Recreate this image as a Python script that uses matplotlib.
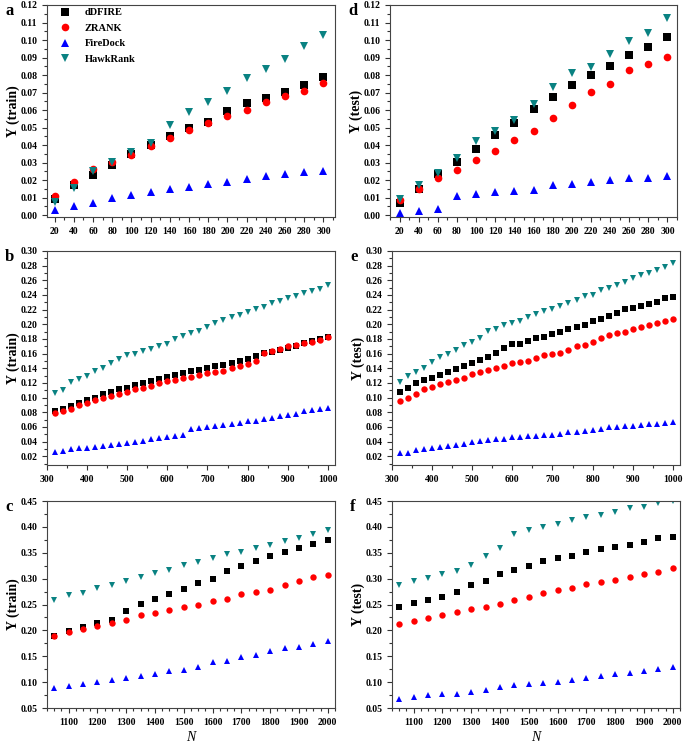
import numpy as np
import matplotlib.pyplot as plt
from matplotlib.ticker import MultipleLocator, AutoMinorLocator

plt.rcParams['font.family'] = 'Liberation Serif'
plt.rcParams['font.weight'] = 'bold'

names = ['dDFIRE', 'ZRANK', 'FireDock', 'HawkRank']
colors = ['black', '#ff0000', '#0000ff', '#0a8282']
markers = ['s', 'o', '^', 'v']

# panel a / d : N = 20..300
n_small = list(range(20, 301, 20))
a_ddfire = [0.009, 0.017, 0.023, 0.0286, 0.0347, 0.040, 0.045, 0.050, 0.0535, 0.0593,
            0.0639, 0.0667, 0.0705, 0.0743, 0.079]
a_zrank = [0.0108, 0.019, 0.0262, 0.0305, 0.0343, 0.0394, 0.0442, 0.0489, 0.0527, 0.0569,
           0.0603, 0.0646, 0.0679, 0.0709, 0.0756]
a_firedock = [0.003, 0.0053, 0.0072, 0.0099, 0.0114, 0.0133, 0.0148, 0.0161, 0.0176, 0.019,
              0.0207, 0.0224, 0.0237, 0.0246, 0.0252]
a_hawkrank = [0.0078, 0.0157, 0.025, 0.0303, 0.036, 0.0413, 0.0516, 0.0588, 0.0646, 0.0711,
              0.0783, 0.0836, 0.0891, 0.0965, 0.1026]

d_ddfire = [0.0068, 0.0148, 0.0234, 0.0306, 0.0378, 0.0456, 0.0529, 0.0605, 0.0677, 0.0745,
            0.0798, 0.085, 0.0916, 0.096, 0.102]
d_zrank = [0.0086, 0.0152, 0.0213, 0.026, 0.0317, 0.0367, 0.043, 0.0483, 0.0555, 0.0629,
           0.0702, 0.0749, 0.0827, 0.0863, 0.0903]
d_firedock = [0.0015, 0.0027, 0.0034, 0.011, 0.0124, 0.0135, 0.0139, 0.0143, 0.0171, 0.0177,
              0.019, 0.020, 0.0211, 0.0213, 0.0222]
d_hawkrank = [0.0091, 0.0175, 0.024, 0.0329, 0.0424, 0.0481, 0.0542, 0.0633, 0.0734, 0.0814,
              0.0848, 0.0922, 0.0994, 0.1042, 0.1127]

# panel b / e : N = 320..1000
n_mid = list(range(320, 1001, 20))
b_ddfire = [0.0815, 0.0847, 0.0879, 0.0929, 0.097, 0.0997, 0.1042, 0.1074, 0.1111, 0.1133,
            0.1165, 0.1193, 0.1225, 0.1256, 0.1279, 0.1307, 0.1338, 0.1357, 0.1375, 0.1398,
            0.1425, 0.1448, 0.1466, 0.1494, 0.1525, 0.1566, 0.1612, 0.1625, 0.1648, 0.1675,
            0.1707, 0.1748, 0.1766, 0.1803, 0.1826]
b_zrank = [0.0787, 0.0815, 0.0847, 0.0901, 0.0929, 0.0961, 0.0992, 0.102, 0.1052, 0.1079,
           0.1111, 0.1133, 0.1161, 0.1193, 0.122, 0.1238, 0.1261, 0.1284, 0.1311, 0.1334,
           0.1352, 0.1366, 0.1407, 0.1434, 0.1461, 0.1493, 0.1607, 0.1634, 0.1666, 0.1698,
           0.1716, 0.1744, 0.1762, 0.178, 0.1826]
b_firedock = [0.0264, 0.0277, 0.0296, 0.0309, 0.0318, 0.0332, 0.0346, 0.0355, 0.0364, 0.0382,
              0.0391, 0.0405, 0.0432, 0.045, 0.0464, 0.0478, 0.0496, 0.0573, 0.0583, 0.0601,
              0.061, 0.0624, 0.0637, 0.0651, 0.0674, 0.0687, 0.0705, 0.0719, 0.0751, 0.0765,
              0.0778, 0.0819, 0.0833, 0.0842, 0.0856]
b_hawkrank = [0.1065, 0.1106, 0.1206, 0.1247, 0.1297, 0.1357, 0.1407, 0.1466, 0.1525, 0.158,
              0.1598, 0.163, 0.1662, 0.1703, 0.1735, 0.1794, 0.1835, 0.1876, 0.1908, 0.1962,
              0.2021, 0.2058, 0.2094, 0.2131, 0.2172, 0.2208, 0.2231, 0.2286, 0.2322, 0.2363,
              0.239, 0.2427, 0.2459, 0.2477, 0.2532]

e_ddfire = [0.1082, 0.1136, 0.1195, 0.1236, 0.1273, 0.1314, 0.135, 0.1386, 0.1436, 0.1473,
            0.1509, 0.155, 0.1614, 0.1673, 0.1727, 0.1736, 0.1777, 0.1818, 0.1827, 0.1864,
            0.1891, 0.1932, 0.1968, 0.1986, 0.205, 0.2073, 0.2114, 0.215, 0.2205, 0.2227,
            0.2255, 0.2277, 0.2309, 0.2364, 0.2373]
e_zrank = [0.0959, 0.0991, 0.105, 0.1114, 0.115, 0.1182, 0.1218, 0.1241, 0.1268, 0.1323,
           0.135, 0.1377, 0.1409, 0.1436, 0.1468, 0.1482, 0.150, 0.1536, 0.1577, 0.1595,
           0.1614, 0.1655, 0.1705, 0.1723, 0.1764, 0.1814, 0.1859, 0.1877, 0.1895, 0.1936,
           0.1968, 0.1991, 0.2014, 0.2045, 0.2077]
e_firedock = [0.0241, 0.0241, 0.0282, 0.030, 0.0314, 0.0332, 0.0345, 0.0359, 0.0368, 0.040,
              0.0409, 0.0418, 0.0432, 0.0441, 0.0459, 0.0464, 0.0473, 0.0482, 0.0486, 0.0491,
              0.0509, 0.0532, 0.0536, 0.0545, 0.0564, 0.0577, 0.0595, 0.0605, 0.0609, 0.0614,
              0.0623, 0.0636, 0.0641, 0.0659, 0.0664]
e_hawkrank = [0.1214, 0.1295, 0.1355, 0.1409, 0.1482, 0.155, 0.1595, 0.165, 0.1718, 0.1755,
              0.1818, 0.1905, 0.1936, 0.1986, 0.2014, 0.2045, 0.21, 0.2136, 0.2177, 0.2209,
              0.225, 0.2286, 0.2336, 0.2382, 0.240, 0.2473, 0.250, 0.2541, 0.2582, 0.2632,
              0.2673, 0.2705, 0.2745, 0.2777, 0.2841]

# panel c / f : N = 1050..2000
n_large = list(range(1050, 2001, 50))
c_ddfire = [0.190, 0.198, 0.2072, 0.2143, 0.2208, 0.2382, 0.251, 0.2607, 0.2704, 0.2807,
            0.2916, 0.300, 0.3142, 0.3251, 0.3335, 0.3438, 0.3515, 0.3593, 0.367, 0.3741]
c_zrank = [0.1885, 0.1963, 0.2034, 0.2079, 0.2143, 0.2195, 0.2291, 0.2336, 0.2401, 0.2459,
           0.2497, 0.2562, 0.2613, 0.2697, 0.2742, 0.2787, 0.2871, 0.2948, 0.3026, 0.3064]
c_firedock = [0.0893, 0.0932, 0.097, 0.0996, 0.1041, 0.108, 0.1125, 0.1164, 0.1209, 0.1241,
              0.1299, 0.1389, 0.1415, 0.1492, 0.1531, 0.1595, 0.1653, 0.1686, 0.1731, 0.1795]
c_hawkrank = [0.2594, 0.2691, 0.273, 0.2813, 0.2878, 0.2948, 0.3039, 0.311, 0.3168, 0.3258,
              0.3316, 0.3393, 0.347, 0.3515, 0.3593, 0.3657, 0.3735, 0.3786, 0.387, 0.3941]

f_ddfire = [0.246, 0.2525, 0.2583, 0.2647, 0.275, 0.2879, 0.2962, 0.3085, 0.3174, 0.3245,
            0.3341, 0.3394, 0.3432, 0.3509, 0.3567, 0.3606, 0.365, 0.3708, 0.378, 0.381]
f_zrank = [0.2132, 0.219, 0.2236, 0.2306, 0.2364, 0.2415, 0.246, 0.2518, 0.2589, 0.2653,
           0.273, 0.2782, 0.2826, 0.2892, 0.2942, 0.2975, 0.3039, 0.3085, 0.3135, 0.3201]
f_firedock = [0.0679, 0.0712, 0.075, 0.0762, 0.0776, 0.0809, 0.0847, 0.0905, 0.0944, 0.0963,
              0.0989, 0.1002, 0.1047, 0.1079, 0.1117, 0.1156, 0.1175, 0.122, 0.1259, 0.1297]
f_hawkrank = [0.2879, 0.2956, 0.302, 0.309, 0.3154, 0.3258, 0.3432, 0.3587, 0.3868, 0.3934,
              0.3992, 0.4055, 0.4132, 0.4184, 0.4229, 0.4292, 0.4358, 0.4389, 0.4454, 0.450]

W, H = 685, 744
fig = plt.figure(figsize=(W / 100, H / 100), dpi=100)


def box(l, t, r, b):
    # pixel box -> figure fraction
    return [l / W, 1 - b / H, (r - l) / W, (b - t) / H]


panels = [
    ('a', box(47, 5, 335, 217), n_small, [a_ddfire, a_zrank, a_firedock, a_hawkrank],
     'Y (train)', (12, 312), (-0.001, 0.12), 20, 0.01, 5.5),
    ('d', box(390, 5, 677, 217), n_small, [d_ddfire, d_zrank, d_firedock, d_hawkrank],
     'Y (test)', (10, 310), (-0.001, 0.12), 20, 0.01, 5.5),
    ('b', box(47, 251, 335, 465), n_mid, [b_ddfire, b_zrank, b_firedock, b_hawkrank],
     'Y (train)', (300, 1018), (0.008, 0.30), 100, 0.02, 4.6),
    ('e', box(392, 251, 680, 465), n_mid, [e_ddfire, e_zrank, e_firedock, e_hawkrank],
     'Y (test)', (300, 1018), (0.008, 0.30), 100, 0.02, 4.6),
    ('c', box(47, 501, 335, 708), n_large, [c_ddfire, c_zrank, c_firedock, c_hawkrank],
     'Y (train)', (1025, 2025), (0.05, 0.45), 100, 0.05, 4.6),
    ('f', box(392, 501, 680, 708), n_large, [f_ddfire, f_zrank, f_firedock, f_hawkrank],
     'Y (test)', (1025, 2025), (0.05, 0.45), 100, 0.05, 4.6),
]

for letter, rect, xs, series, ylab, xl, yl, xmaj, ymaj, ms in panels:
    ax = fig.add_axes(rect)
    for ys, name, c, m in zip(series, names, colors, markers):
        ax.plot(xs, ys, linestyle='none', marker=m, color=c, markersize=ms,
                markeredgewidth=0, label=name)
    ax.set_xlim(*xl)
    ax.set_ylim(*yl)
    ax.xaxis.set_major_locator(MultipleLocator(xmaj))
    ax.yaxis.set_major_locator(MultipleLocator(ymaj))
    ax.xaxis.set_minor_locator(AutoMinorLocator(4 if letter in 'cf' else 2))
    ax.yaxis.set_minor_locator(AutoMinorLocator(2))
    ax.yaxis.set_major_formatter(plt.FormatStrFormatter('%.2f'))
    ax.tick_params(which='both', direction='out', labelsize=7, width=0.8, color='#333333')
    ax.tick_params(which='major', length=3.5)
    ax.tick_params(which='minor', length=2)
    for sp in ax.spines.values():
        sp.set_linewidth(0.8)
        sp.set_color('#444444')
    for lab in ax.get_xticklabels() + ax.get_yticklabels():
        lab.set_fontweight('bold')
    ax.set_ylabel(ylab, fontsize=10, fontweight='bold')
    ax.yaxis.set_label_coords(-0.095, 0.5)
    if letter in 'cf':
        ax.set_xlabel('N', fontsize=10, style='italic', fontweight='normal', labelpad=3)
    if letter == 'a':
        ax.legend(loc='upper left', bbox_to_anchor=(0.0, 1.02), frameon=False,
                  handletextpad=0.9, labelspacing=0.6, borderaxespad=0.3,
                  prop={'weight': 'bold', 'size': 7.5})
    # panel letter
    fig.text(rect[0] - 42 / W, rect[1] + rect[3] - 6 / H, letter, fontsize=12,
             fontweight='bold', va='center', ha='left')

fig.savefig('out.png', dpi=100)
